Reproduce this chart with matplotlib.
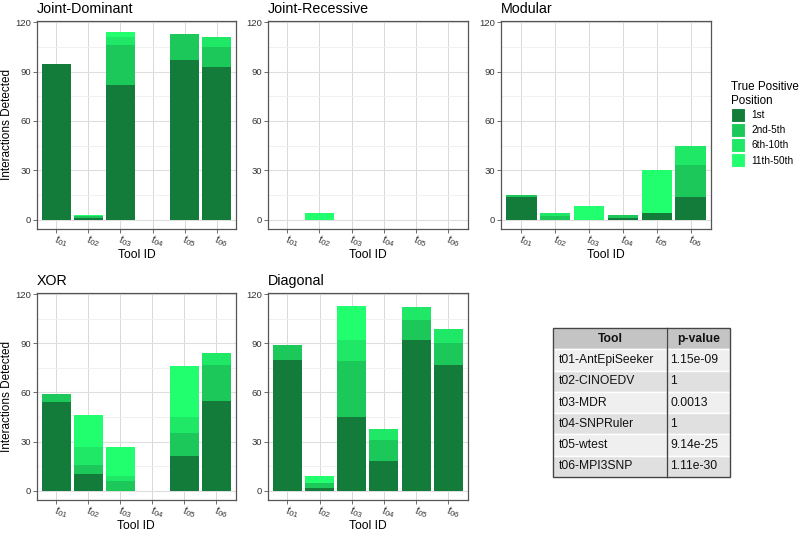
import matplotlib
matplotlib.use('Agg')
import matplotlib.pyplot as plt
from matplotlib.patches import Patch, Rectangle
import matplotlib.transforms as mtransforms
import numpy as np

plt.rcParams['font.family'] = ['Liberation Sans', 'DejaVu Sans']
plt.rcParams['mathtext.fontset'] = 'custom'
plt.rcParams['mathtext.it'] = 'Liberation Sans:italic'
plt.rcParams['mathtext.rm'] = 'Liberation Sans'

# data
tools = ['01', '02', '03', '04', '05', '06']
positions = ['1st', '2nd-5th', '6th-10th', '11th-50th']
colors = ['#137C3A', '#1DC85A', '#1FE866', '#22FF6E']

# rows: 1st, 2nd-5th, 6th-10th, 11th-50th ; columns: t01..t06
joint_dominant = [[95, 1, 82, 0, 97, 93],
                  [0, 1, 24, 0, 16, 12],
                  [0, 0, 5, 0, 0, 6],
                  [0, 1, 3, 0, 0, 0]]
joint_recessive = [[0, 0, 0, 0, 0, 0],
                   [0, 0, 0, 0, 0, 0],
                   [0, 0, 0, 0, 0, 0],
                   [0, 4, 0, 0, 0, 0]]
modular = [[14, 0, 0, 1, 4, 14],
           [1, 2, 0, 2, 0, 19],
           [0, 2, 0, 0, 0, 12],
           [0, 0, 8, 0, 26, 0]]
xor = [[54, 10, 0, 0, 21, 55],
       [5, 6, 6, 0, 14, 22],
       [0, 11, 3, 0, 10, 7],
       [0, 19, 18, 0, 31, 0]]
diagonal = [[80, 2, 45, 18, 92, 77],
            [9, 3, 34, 13, 12, 13],
            [0, 0, 13, 7, 8, 9],
            [0, 4, 21, 0, 0, 0]]

table_tools = ['t01-AntEpiSeeker', 't02-CINOEDV', 't03-MDR', 't04-SNPRuler',
               't05-wtest', 't06-MPI3SNP']
table_pvals = ['1.15e-09', '1', '0.0013', '1', '9.14e-25', '1.11e-30']

W, H = 800, 533
fig = plt.figure(figsize=(8, 5.33), dpi=100)


def box(l, t, r, b):
    return [l / W, 1 - b / H, (r - l) / W, (b - t) / H]


def panel(rect, title, data, ylabel=False):
    ax = fig.add_axes(rect)
    wpx, hpx = rect[2] * W, rect[3] * H
    x = np.arange(1, len(tools) + 1)
    bottom = np.zeros(len(tools))
    for vals, c in zip(data, colors):
        vals = np.array(vals, dtype=float)
        ax.bar(x, vals, width=0.9, bottom=bottom, color=c, linewidth=0, zorder=3)
        bottom += vals
    ax.set_xlim(0.4, 6.6)
    ax.set_ylim(-5.6, 120.9)
    ax.set_yticks([0, 30, 60, 90, 120])
    ax.set_yticks([15, 45, 75, 105], minor=True)
    ax.set_xticks(x)
    ax.set_xticklabels([r'$\mathit{t_{%s}}$' % t for t in tools], rotation=-15,
                       rotation_mode='anchor', ha='left', va='top')
    shift = mtransforms.ScaledTranslation(-3 / 100, 0, fig.dpi_scale_trans)
    for lab in ax.get_xticklabels():
        lab.set_transform(lab.get_transform() + shift)
    ax.grid(axis='y', which='major', color='#DEDEDE', lw=0.8, zorder=0)
    ax.grid(axis='y', which='minor', color='#EEEEEE', lw=0.6, zorder=0)
    ax.grid(axis='x', which='major', color='#D2D2D2', lw=0.6, zorder=0)
    ax.tick_params(axis='both', which='major', length=3, width=0.6, color='#555555',
                   labelcolor='#333333', labelsize=6.8, pad=1.5)
    ax.tick_params(axis='x', labelsize=7.8, pad=0)
    ax.tick_params(which='minor', length=0)
    for s in ax.spines.values():
        s.set_color('#555555')
        s.set_linewidth(0.9)
    ax.set_title(title, loc='left', fontsize=10.3, pad=5.5)
    ax.set_xlabel('Tool ID', fontsize=8.7)
    ax.xaxis.set_label_coords(0.5, -20.0 / hpx)
    if ylabel:
        ax.set_ylabel('Interactions Detected', fontsize=8.5)
        ax.yaxis.set_label_coords(-24.0 / wpx, 0.5)
    return ax


panel(box(37, 21, 236, 228.7), 'Joint-Dominant', joint_dominant, ylabel=True)
panel(box(268, 21, 467.5, 228.7), 'Joint-Recessive', joint_recessive)
panel(box(501, 21, 711, 228.7), 'Modular', modular)
panel(box(37, 292.7, 235.5, 500), 'XOR', xor, ylabel=True)
panel(box(268, 292.7, 467.7, 500), 'Diagonal', diagonal)

# legend
handles = [Patch(facecolor=c, edgecolor='white', linewidth=0.8) for c in colors]
fig.legend(handles, positions, title='True Positive\nPosition', loc='upper left',
           bbox_to_anchor=(726 / W, 1 - 76 / H), frameon=False, fontsize=7.2,
           title_fontsize=8.4, handlelength=1.4, handleheight=1.8,
           labelspacing=0.1, handletextpad=0.6, alignment='left', borderpad=0)

# p-value table
tax = fig.add_axes(box(553, 328, 730, 477))
tax.set_xlim(0, 1)
tax.set_ylim(0, 1)
tax.axis('off')
cells = [[a, b] for a, b in zip(table_tools, table_pvals)]
tbl = tax.table(cellText=cells, colLabels=['Tool', 'p-value'], bbox=[0, 0, 1, 1],
                colWidths=[114 / 177, 63 / 177], cellLoc='left')
tbl.auto_set_font_size(False)
nrow = len(cells) + 1
for (r, c), cell in tbl.get_celld().items():
    cell.set_edgecolor('white')
    cell.set_linewidth(1.0)
    cell.set_height(1 / nrow)
    txt = cell.get_text()
    txt.set_fontsize(8.7)
    txt.set_color('#111111')
    if r == 0:
        cell.set_facecolor('#C4C4C4')
        txt.set_fontweight('bold')
        txt.set_ha('center')
        cell._loc = 'center'
    else:
        cell.set_facecolor('#EFEFEF' if r % 2 == 1 else '#E0E0E0')
        cell.PAD = 0.05
tax.add_patch(Rectangle((0, 0), 1, 1, fill=False, edgecolor='#444444', lw=1.0,
                        transform=tax.transAxes, zorder=5, clip_on=False))
tax.plot([114 / 177, 114 / 177], [0, 1], color='#444444', lw=1.0, zorder=5,
         transform=tax.transAxes, clip_on=False)

fig.savefig('out.png', dpi=100)
